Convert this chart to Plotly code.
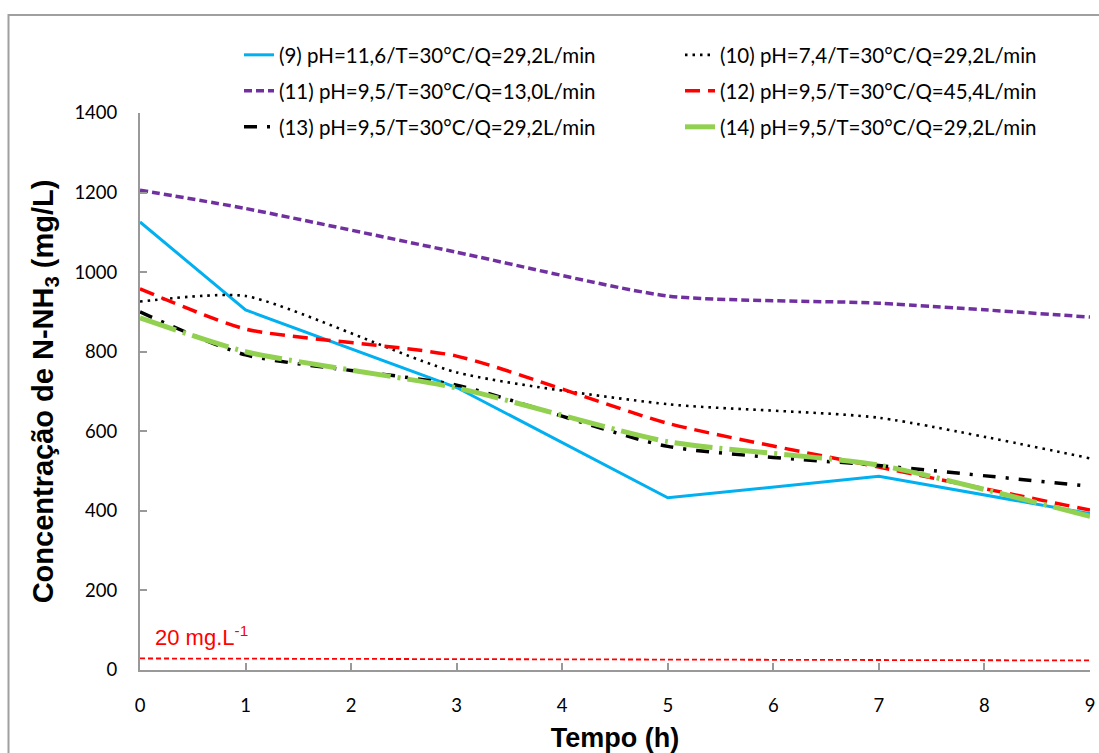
import plotly.graph_objects as go

# ---- data ----
tempo = [0, 1, 3, 5, 7, 9]
s9 = [1126, 905, 710, 433, 487, 393]
s10 = [926, 940, 748, 668, 634, 532]
s11 = [1206, 1160, 1050, 940, 922, 887]
s12 = [958, 857, 789, 620, 510, 402]
s13 = [900, 792, 716, 562, 514, 462]
s14 = [885, 800, 709, 574, 515, 386]
limite_x = [0, 9]
limite_y = [29, 24]

names = [
    "(9) pH=11,6/T=30°C/Q=29,2L/min",
    "(10) pH=7,4/T=30°C/Q=29,2L/min",
    "(11) pH=9,5/T=30°C/Q=13,0L/min",
    "(12) pH=9,5/T=30°C/Q=45,4L/min",
    "(13) pH=9,5/T=30°C/Q=29,2L/min",
    "(14) pH=9,5/T=30°C/Q=29,2L/min",
]
series = [s9, s10, s11, s12, s13, s14]
colors = ["#00B0F0", "#000000", "#7030A0", "#FF0000", "#000000", "#92D050"]
widths = [3, 2.6, 3.5, 3.5, 3.5, 5]
dashes = ["solid", "2.5px,5px", "8px,4px", "15px,8px", "13px,10px,3px,10px", "38px,7px,3px,7px"]
shapes_ = ["linear", "spline", "spline", "spline", "spline", "spline"]

W, H = 1099, 753
L, R, T, B = 140, 9, 113, 83
pw = W - L - R
ph = H - T - B

def px2x(px):
    return (px - L) / pw

def py2y(py):
    return (H - B - py) / ph

fig = go.Figure()

# legend placement: column x (pixel) and row y (pixel)
col_px = [239, 680]
row_py = [55, 91, 127]

for i, (nm, ys) in enumerate(zip(names, series)):
    leg = "legend" if i == 0 else f"legend{i+1}"
    fig.add_trace(go.Scatter(
        x=tempo, y=ys, mode="lines", name=nm,
        line=dict(color=colors[i], width=widths[i], dash=dashes[i],
                  shape=shapes_[i], smoothing=0.6),
        legend=leg,
    ))

fig.add_trace(go.Scatter(
    x=limite_x, y=limite_y, mode="lines", showlegend=False,
    line=dict(color="#FF0000", width=1.8, dash="5px,3px"),
))

legend_font = dict(family="Lato, Open Sans, sans-serif", size=20.5, color="#000000")
layout_legends = {}
for i in range(6):
    key = "legend" if i == 0 else f"legend{i+1}"
    col = i % 2
    row = i // 2
    layout_legends[key] = dict(
        x=px2x(col_px[col]), y=py2y(row_py[row]),
        xanchor="left", yanchor="middle",
        bgcolor="rgba(0,0,0,0)", font=legend_font,
        itemwidth=30,
    )

axis_font = dict(family="Lato, Open Sans, sans-serif", size=18.5, color="#000000")

fig.update_layout(
    width=W, height=H,
    margin=dict(l=L, r=R, t=T, b=B, autoexpand=False),
    paper_bgcolor="white", plot_bgcolor="white",
    showlegend=True,
    **layout_legends,
    xaxis=dict(
        range=[0, 9], dtick=1, tick0=0, automargin=False,
        showgrid=False, zeroline=False,
        showline=True, linecolor="#999999", linewidth=2,
        ticks="inside", ticklen=7, tickcolor="#999999", tickwidth=1.5,
        tickfont=axis_font, ticklabelstandoff=18,
        title=dict(text="<b>Tempo (h)</b>",
                   font=dict(family="Liberation Sans, Arial, sans-serif", size=27, color="#000000"),
                   standoff=14),
    ),
    yaxis=dict(
        range=[0, 1400], dtick=200, tick0=0, automargin=False,
        showgrid=False, zeroline=False,
        showline=True, linecolor="#999999", linewidth=2,
        ticks="inside", ticklen=7, tickcolor="#999999", tickwidth=1.5,
        tickfont=axis_font, ticklabelstandoff=17,
        title=dict(text="<b>Concentração de N-NH<sub>3</sub> (mg/L)</b>",
                   font=dict(family="Liberation Sans, Arial, sans-serif", size=29, color="#000000"),
                   standoff=12),
    ),
    annotations=[dict(
        x=0.12, y=86, xref="x", yref="y", xanchor="left", yanchor="middle",
        text="20 mg.L<sup>-1</sup>", showarrow=False,
        font=dict(family="Liberation Sans, Arial, sans-serif", size=22, color="#FF0000"),
    )],
    shapes=[dict(
        type="rect", xref="paper", yref="paper",
        x0=px2x(8.5), x1=px2x(1110), y0=py2y(15), y1=py2y(770),
        line=dict(color="#A0A0A0", width=2), fillcolor="rgba(0,0,0,0)",
        layer="below",
    )],
)

fig.write_html("out.html")
